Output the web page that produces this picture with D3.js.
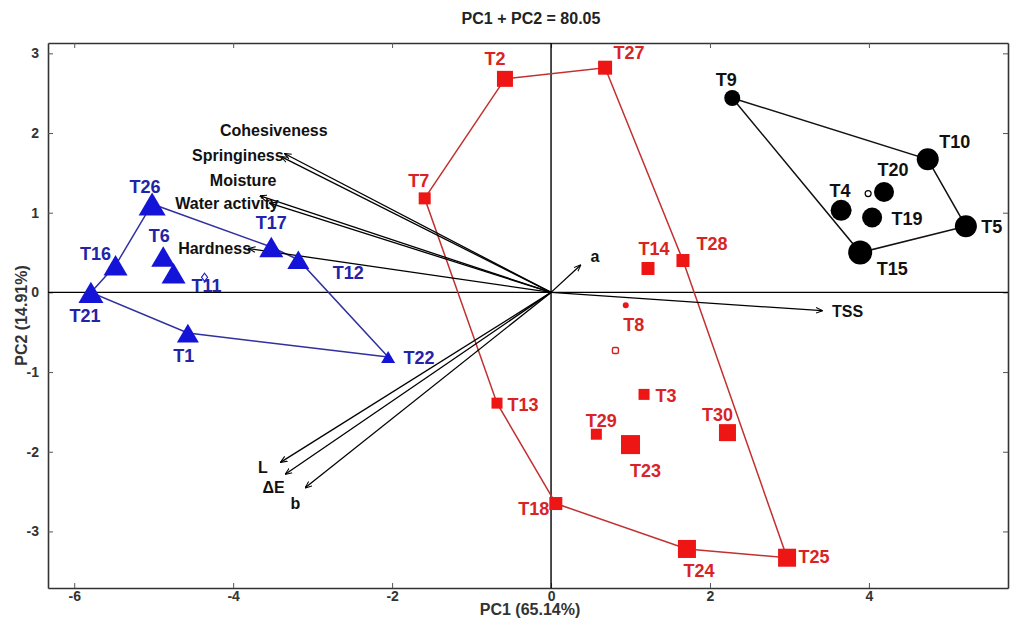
<!DOCTYPE html>
<html>
<head>
<meta charset="utf-8">
<script src="https://cdn.jsdelivr.net/npm/d3@7"></script>
<style>
  body { margin: 0; background: #fff; }
  text { font-family: "Liberation Sans", Arial, sans-serif; font-weight: bold; }
</style>
</head>
<body>
<div id="chart"></div>
<script>
// samples, grouped as in the plot (score on PC1, PC2, marker size)
var blueNames = ['T26','T16','T21','T6','T11','T17','T12','T1','T22'];
var blueX = [-5.02, -5.48, -5.79, -4.88, -4.75, -3.52, -3.18, -4.57, -2.05];
var blueY = [1.11, 0.34, 0.0, 0.45, 0.24, 0.57, 0.41, -0.51, -0.81];
var blueSize = [27, 24, 25, 24, 24, 24, 22, 22, 14];
var blueHull = ['T21','T16','T26','T17','T12','T22','T1'];

var redNames = ['T2','T27','T7','T14','T28','T8','T3','T13','T29','T23','T30','T18','T24','T25'];
var redX = [-0.58, 0.68, -1.59, 1.22, 1.66, 0.94, 1.17, -0.68, 0.57, 1.00, 2.22, 0.06, 1.71, 2.97];
var redY = [2.68, 2.82, 1.18, 0.30, 0.40, -0.16, -1.28, -1.39, -1.78, -1.91, -1.76, -2.65, -3.22, -3.33];
var redSize = [16, 14, 12, 13, 13, 6, 11, 11, 11, 19, 17, 13, 18, 18];
var redHull = ['T2','T27','T28','T25','T24','T18','T13','T7'];

var blackNames = ['T9','T10','T20','T4','T19','T5','T15'];
var blackX = [2.28, 4.74, 4.19, 3.65, 4.04, 5.22, 3.89];
var blackY = [2.44, 1.67, 1.26, 1.03, 0.94, 0.83, 0.50];
var blackSize = [16, 22, 20, 21, 20, 22, 24];
var blackHull = ['T9','T10','T5','T15'];

// group centroids (small open markers)
var centroidX = [-4.36, 0.81, 3.99];
var centroidY = [0.19, -0.73, 1.24];

// variable loadings
var varNames = ['Cohesiveness','Springiness','Moisture','Water activity','Hardness','a','TSS','L','\u0394E','b'];
var varX = [-3.35, -3.39, -3.66, -3.54, -3.80, 0.37, 3.41, -3.40, -3.34, -3.09];
var varY = [1.74, 1.70, 1.21, 1.12, 0.55, 0.34, -0.23, -2.13, -2.28, -2.45];

var xTicks = [-6, -4, -2, 0, 2, 4];
var yTicks = [-3, -2, -1, 0, 1, 2, 3];

var W = 1012, H = 619;
var mLeft = 48, mRight = 1008, mTop = 43, mBottom = 588;

var x = d3.scaleLinear().domain([-6.33, 5.75]).range([mLeft, mRight]);
var y = d3.scaleLinear().domain([-3.71, 3.13]).range([mBottom, mTop]);

var svg = d3.select('#chart').append('svg')
    .attr('width', W).attr('height', H);

svg.append('defs').append('marker')
    .attr('id', 'arr')
    .attr('viewBox', '0 -5 10 10')
    .attr('refX', 9).attr('refY', 0)
    .attr('markerWidth', 7).attr('markerHeight', 7)
    .attr('markerUnits', 'userSpaceOnUse')
    .attr('orient', 'auto')
    .append('path')
    .attr('d', 'M0,-4L10,0L0,4')
    .attr('fill', 'none').attr('stroke', '#000').attr('stroke-width', 1.5);

// frame + inner ticks
var fmt = function(d) { return String(d); };
var axB = d3.axisBottom(x).tickValues(xTicks).tickSizeInner(-5).tickSizeOuter(0).tickFormat(fmt);
var axT = d3.axisTop(x).tickValues(xTicks).tickSizeInner(-5).tickSizeOuter(0).tickFormat('');
var axL = d3.axisLeft(y).tickValues(yTicks).tickSizeInner(-5).tickSizeOuter(0).tickFormat(fmt);
var axR = d3.axisRight(y).tickValues(yTicks).tickSizeInner(-5).tickSizeOuter(0).tickFormat('');

function styleAxis(g) {
    g.select('.domain').attr('stroke', '#333').attr('stroke-width', 1.6);
    g.selectAll('.tick line').attr('stroke', '#555');
    g.selectAll('.tick text').attr('fill', '#333').style('font-size', '14px')
        .style('font-family', '"Liberation Sans", Arial, sans-serif').style('font-weight', 'bold');
}
svg.append('g').attr('transform', 'translate(0,' + mBottom + ')').call(axB).call(styleAxis)
    .selectAll('.tick text').attr('y', 3).attr('dy', '0.71em');
svg.append('g').attr('transform', 'translate(0,' + mTop + ')').call(axT).call(styleAxis);
svg.append('g').attr('transform', 'translate(' + mLeft + ',0)').call(axL).call(styleAxis)
    .selectAll('.tick text').attr('x', -9);
svg.append('g').attr('transform', 'translate(' + mRight + ',0)').call(axR).call(styleAxis);

// zero lines
svg.append('line').attr('x1', x(0)).attr('x2', x(0)).attr('y1', mTop).attr('y2', mBottom)
    .attr('stroke', '#000').attr('stroke-width', 1.4);
svg.append('line').attr('x1', mLeft).attr('x2', mRight).attr('y1', y(0)).attr('y2', y(0))
    .attr('stroke', '#000').attr('stroke-width', 1.4);

// titles
var midX = (mLeft + mRight) / 2;
svg.append('text').attr('x', midX + 3).attr('y', 24).attr('text-anchor', 'middle')
    .style('font-size', '16px').attr('fill', '#222').text('PC1 + PC2 = 80.05');
svg.append('text').attr('x', midX + 2).attr('y', 615).attr('text-anchor', 'middle')
    .style('font-size', '16px').attr('fill', '#333').text('PC1 (65.14%)');
svg.append('text').attr('transform', 'translate(27,' + ((mTop + mBottom) / 2) + ') rotate(-90)').attr('text-anchor', 'middle')
    .style('font-size', '16px').attr('fill', '#333').text('PC2 (14.91%)');

// build groups
function group(names, xs, ys, sz) {
    return names.map(function(n, i) { return { name: n, x: xs[i], y: ys[i], s: sz[i] }; });
}
var blue = group(blueNames, blueX, blueY, blueSize);
var red = group(redNames, redX, redY, redSize);
var black = group(blackNames, blackX, blackY, blackSize);

function hullPath(pts, order) {
    var byName = {};
    pts.forEach(function(p) { byName[p.name] = p; });
    return d3.line().x(function(n) { return x(byName[n].x); }).y(function(n) { return y(byName[n].y); })
        .curve(d3.curveLinearClosed)(order);
}
svg.append('path').attr('d', hullPath(blue, blueHull)).attr('fill', 'none').attr('stroke', '#3030a0').attr('stroke-width', 1.5);
svg.append('path').attr('d', hullPath(red, redHull)).attr('fill', 'none').attr('stroke', '#c23030').attr('stroke-width', 1.5);
svg.append('path').attr('d', hullPath(black, blackHull)).attr('fill', 'none').attr('stroke', '#111').attr('stroke-width', 1.5);

// loading vectors
var vars = varNames.map(function(n, i) { return { name: n, x: varX[i], y: varY[i] }; });
svg.selectAll('line.vec').data(vars).enter().append('line')
    .attr('class', 'vec')
    .attr('x1', x(0)).attr('y1', y(0))
    .attr('x2', function(d) { return x(d.x); })
    .attr('y2', function(d) { return y(d.y); })
    .attr('stroke', '#000').attr('stroke-width', 1.3)
    .attr('marker-end', 'url(#arr)');

var varLab = {
    'Cohesiveness': [-11, -23, 'middle'],
    'Springiness': [2, -2, 'end'],
    'Moisture': [-17, -16, 'middle'],
    'Water activity': [9, 0, 'end'],
    'Hardness': [2, 0, 'end'],
    'a': [10, -9, 'start'],
    'TSS': [10, 1, 'start'],
    'L': [-18, 5, 'middle'],
    '\u0394E': [-12, 13, 'middle'],
    'b': [-10, 16, 'middle']
};
svg.selectAll('text.vlab').data(vars).enter().append('text')
    .attr('class', 'vlab')
    .attr('x', function(d) { return x(d.x) + varLab[d.name][0]; })
    .attr('y', function(d) { return y(d.y) + varLab[d.name][1]; })
    .attr('dy', '0.35em')
    .attr('text-anchor', function(d) { return varLab[d.name][2]; })
    .style('font-size', '16px').attr('fill', '#111')
    .text(function(d) { return d.name; });

// markers
svg.selectAll('path.tri').data(blue).enter().append('path')
    .attr('class', 'tri')
    .attr('d', function(d) {
        var cx = x(d.x), cy = y(d.y), w = d.s, h = d.s * 0.85;
        return 'M' + cx + ',' + (cy - h / 2) + 'L' + (cx + w / 2) + ',' + (cy + h / 2) + 'L' + (cx - w / 2) + ',' + (cy + h / 2) + 'Z';
    })
    .attr('fill', '#1414d8');

svg.selectAll('rect.sq').data(red).enter().append('rect')
    .attr('class', 'sq')
    .attr('x', function(d) { return x(d.x) - d.s / 2; })
    .attr('y', function(d) { return y(d.y) - d.s / 2; })
    .attr('width', function(d) { return d.s; })
    .attr('height', function(d) { return d.s; })
    .attr('rx', function(d) { return d.s < 8 ? d.s / 2 : 0; })
    .attr('fill', '#ee1515');

svg.selectAll('circle.dot').data(black).enter().append('circle')
    .attr('class', 'dot')
    .attr('cx', function(d) { return x(d.x); })
    .attr('cy', function(d) { return y(d.y); })
    .attr('r', function(d) { return d.s / 2; })
    .attr('fill', '#000');

// centroids
svg.append('path')
    .attr('d', 'M' + x(centroidX[0]) + ',' + (y(centroidY[0]) - 4) + 'l3,4l-3,4l-3,-4z')
    .attr('fill', '#fff').attr('stroke', '#2020c0').attr('stroke-width', 1.2);
svg.append('rect')
    .attr('x', x(centroidX[1]) - 3).attr('y', y(centroidY[1]) - 3)
    .attr('width', 6).attr('height', 6).attr('rx', 1.5)
    .attr('fill', '#fff').attr('stroke', '#d02020').attr('stroke-width', 1.4);
svg.append('circle')
    .attr('cx', x(centroidX[2])).attr('cy', y(centroidY[2])).attr('r', 3)
    .attr('fill', '#fff').attr('stroke', '#000').attr('stroke-width', 1.2);

// point labels: [dx, dy] from marker centre
var lab = {
    T26: [-7, -17], T16: [-20, -12], T21: [-6, 23], T6: [-4, -21], T11: [33, 12],
    T17: [0, -24], T12: [50, 13], T1: [-4, 22], T22: [31, 1],
    T2: [-10, -20], T27: [24, -15], T7: [-6, -18], T14: [6, -20], T28: [29, -17],
    T8: [8, 19], T3: [22, 1], T13: [26, 1], T29: [5, -14], T23: [15, 26],
    T30: [-10, -18], T18: [-22, 5], T24: [12, 22], T25: [27, -1],
    T9: [-6, -18], T10: [27, -18], T20: [9, -22], T4: [-1, -20], T19: [35, 1],
    T5: [26, 0], T15: [32, 16]
};
function labels(data, color) {
    svg.selectAll(null).data(data).enter().append('text')
        .attr('x', function(d) { return x(d.x) + lab[d.name][0]; })
        .attr('y', function(d) { return y(d.y) + lab[d.name][1]; })
        .attr('dy', '0.36em')
        .attr('text-anchor', 'middle')
        .style('font-size', '18px')
        .attr('fill', color)
        .text(function(d) { return d.name; });
}
labels(blue, '#2323a8');
labels(red, '#d82424');
labels(black, '#111');
</script>
</body>
</html>
